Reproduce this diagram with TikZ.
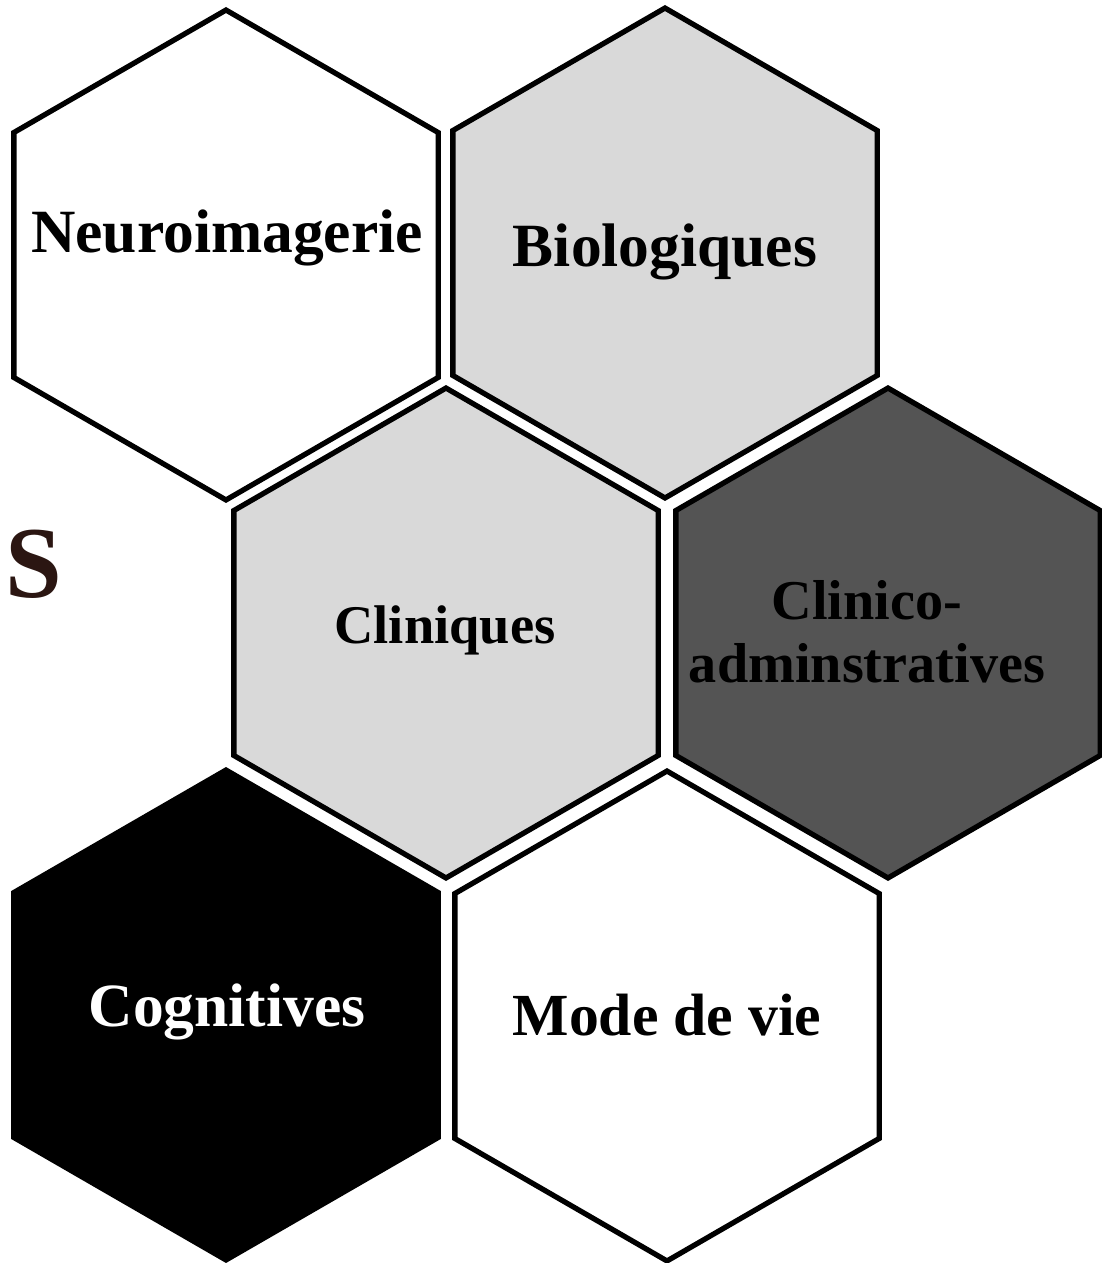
\documentclass[tikz,border=0pt]{standalone}
\usepackage{fontspec}
\setmainfont{Liberation Serif}
\usetikzlibrary{shapes.geometric}
\definecolor{LightCell}{HTML}{D9D9D9}
\definecolor{DarkCell}{HTML}{545454}
\definecolor{BrownS}{HTML}{2B1612}

\begin{document}
\begin{tikzpicture}[x=0.02cm, y=-0.02cm]
\tikzset{HexStyle/.style ={regular polygon, regular polygon sides=6, shape border rotate=30,
  minimum size=9.8cm, inner sep=0pt, draw=black, line width=3pt}}
\tikzset{HexText/.style ={inner sep=0pt, align=center, font=\bfseries\fontsize{#1}{36}\selectfont}}
\useasboundingbox (0,0) rectangle (1101,1263);
\node[HexStyle, fill=white] (Neuro) at (226,255) {};
\node[HexStyle, fill=LightCell] (Bio) at (665,253) {};
\node[HexStyle, fill=LightCell] (Clin) at (446,633) {};
\node[HexStyle, fill=DarkCell] (ClinAdm) at (888,633) {};
\node[HexStyle, fill=black] (Cogn) at (226,1015) {};
\node[HexStyle, fill=white] (Mode) at (667,1016) {};
\node[HexText=35] (NeuroText) at (227,238) {Neuroimagerie};
\node[HexText=35] (BioText) at (665,252) {Biologiques};
\node[HexText=31] (ClinText) at (445,630) {Cliniques};
\node[HexText=32] (ClinAdmText) at (867,632) {Clinico-\\adminstratives};
\node[HexText=35, text=white] (CognText) at (227,1012) {Cognitives};
\node[HexText=34] (ModeText) at (667,1015) {Mode de vie};
\node[text=BrownS, font=\bfseries\fontsize{58}{60}\selectfont, inner sep=0pt] (S) at (34,564) {S};
\end{tikzpicture}
\end{document}
